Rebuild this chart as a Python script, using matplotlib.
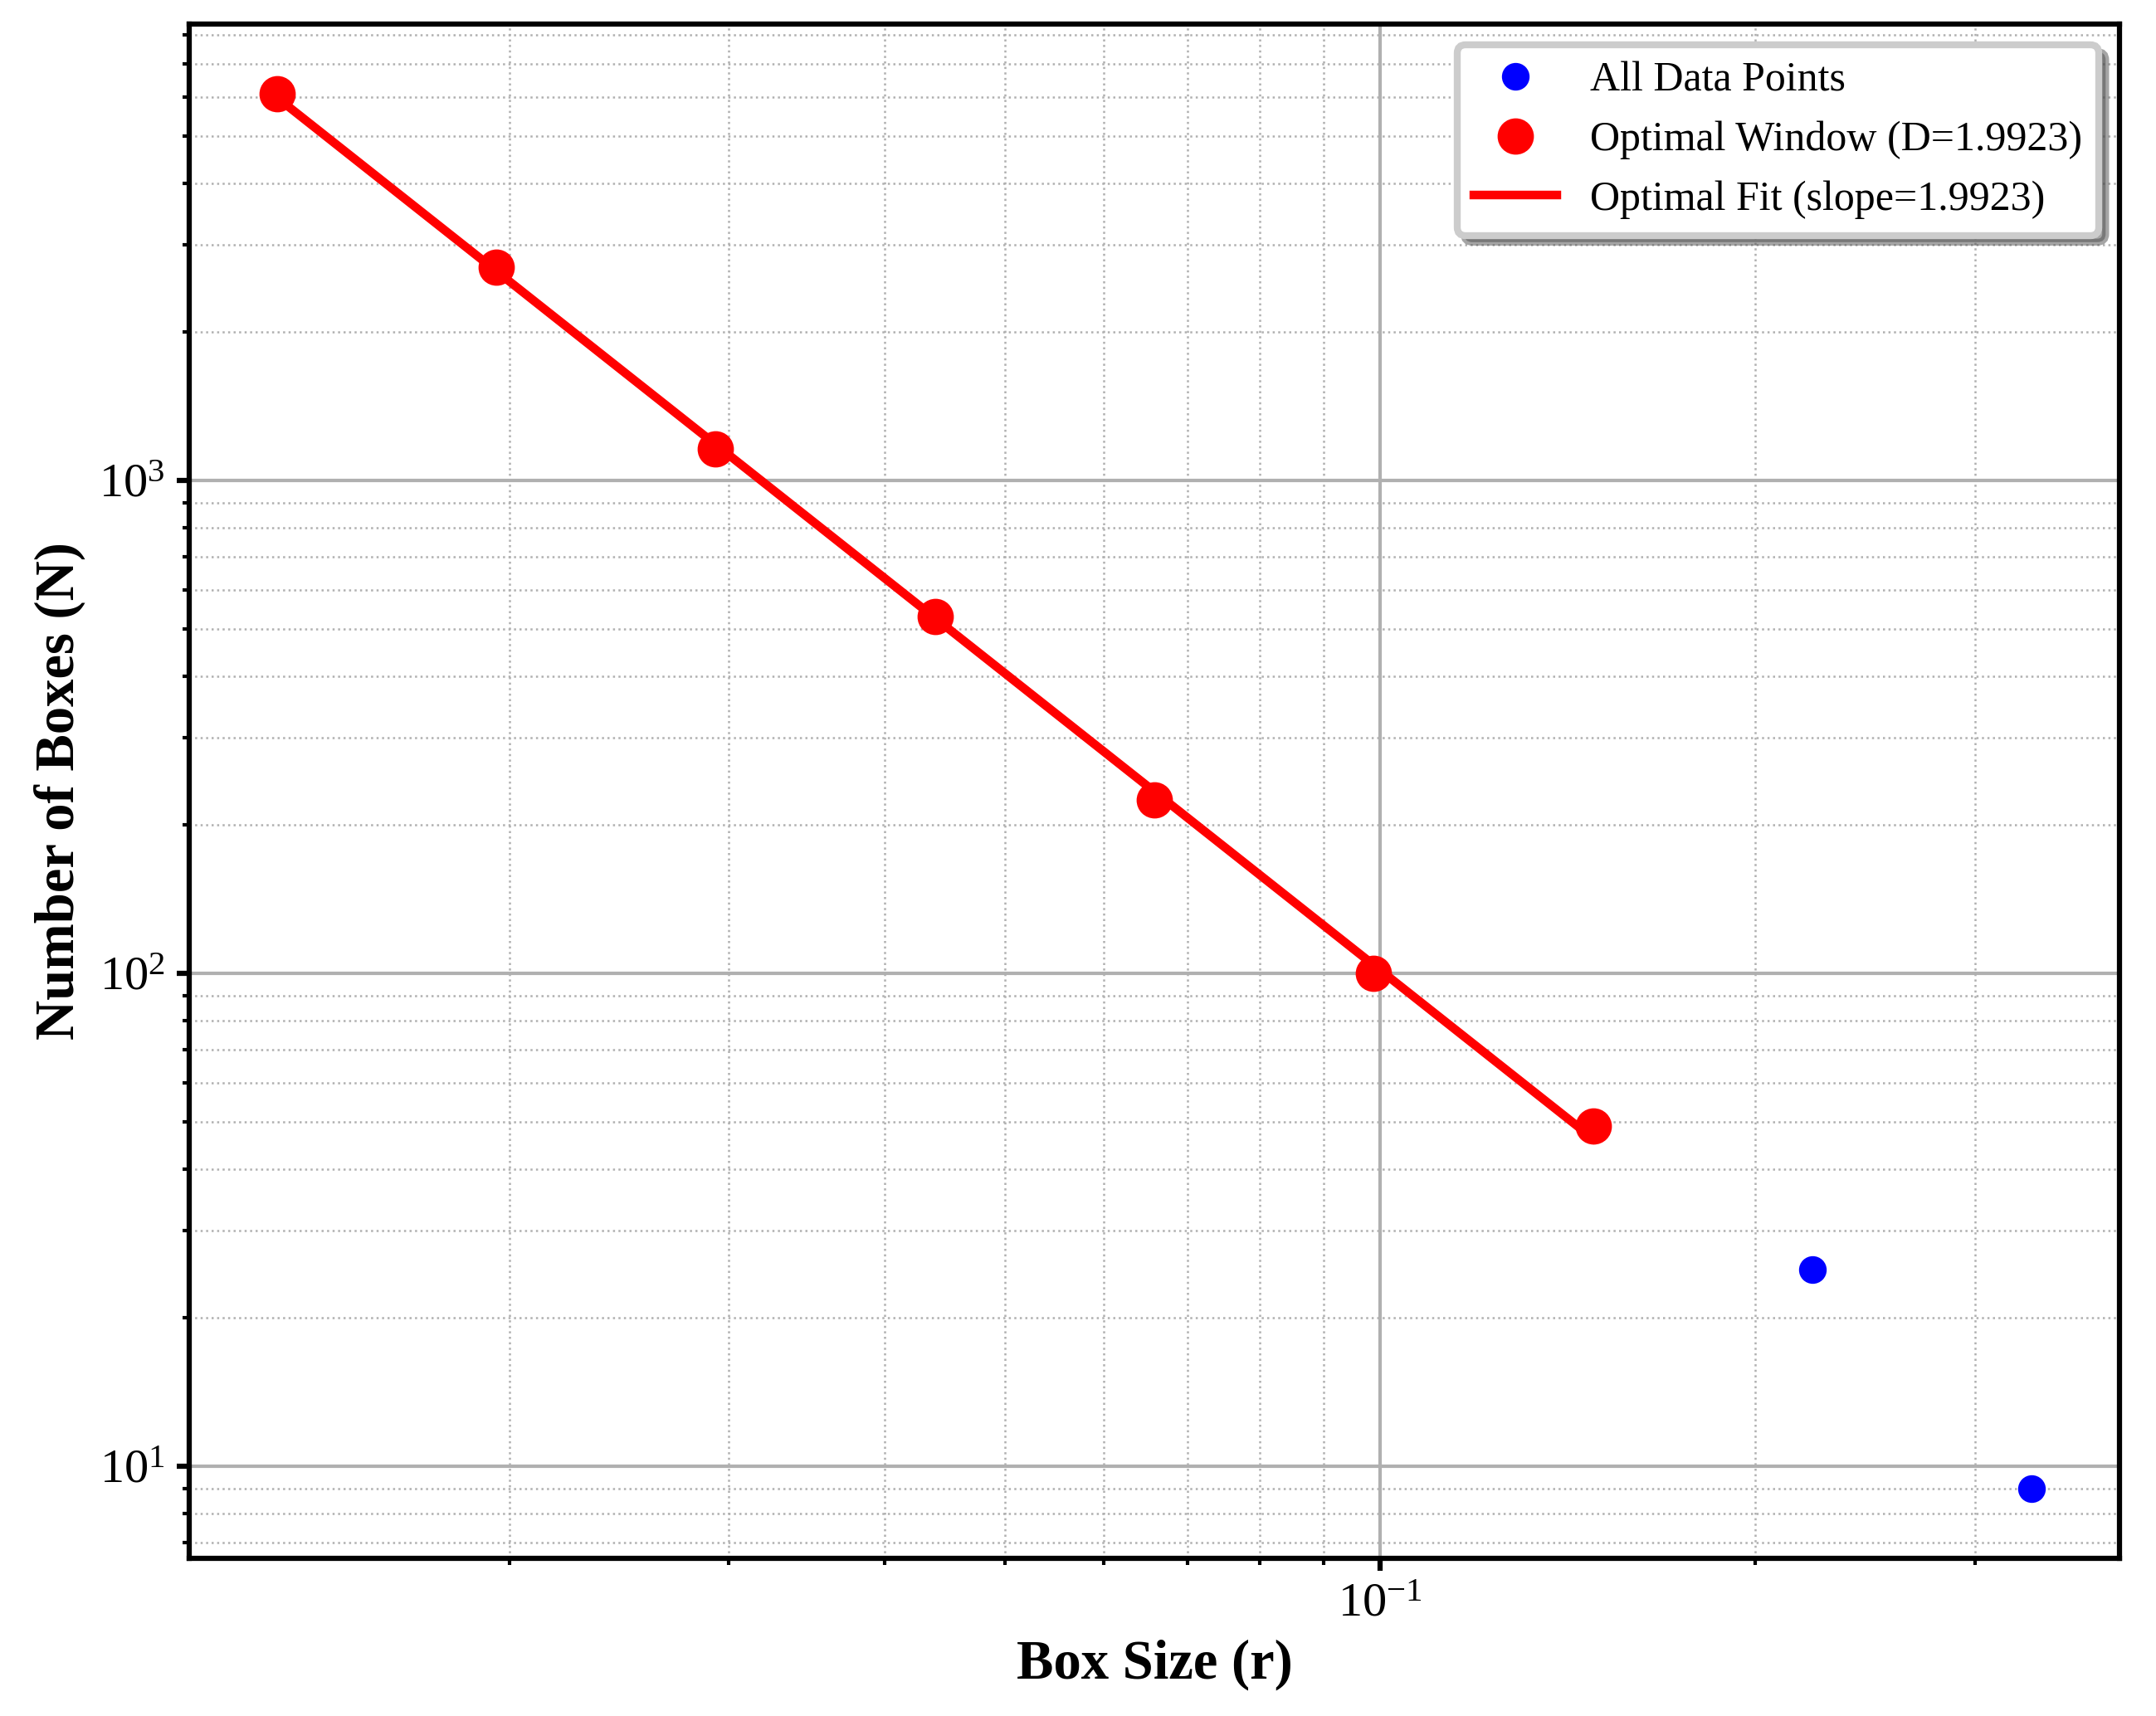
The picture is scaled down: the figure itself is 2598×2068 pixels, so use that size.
import numpy as np
import matplotlib
matplotlib.use("Agg")
import matplotlib.pyplot as plt

# box-counting results
box_sizes = [0.01301, 0.01951, 0.02926, 0.04390, 0.06584, 0.09877, 0.14815, 0.22222, 0.33333]
box_counts = [6084, 2704, 1156, 529, 225, 100, 49, 25, 9]
window_start, window_end = 0, 7   # optimal window (first 7 points)
dim_label = "1.9923"

plt.rcParams['font.family'] = ['Liberation Serif', 'DejaVu Serif']
plt.rcParams['mathtext.fontset'] = 'stix'
plt.rcParams['font.size'] = 14

r = np.array(box_sizes)
n = np.array(box_counts)
r_win = r[window_start:window_end]
n_win = n[window_start:window_end]

coef = np.polyfit(np.log10(r_win), np.log10(n_win), 1)
fit_n = 10 ** np.polyval(coef, np.log10(r_win))

W, H = 2598, 2068
fig = plt.figure(figsize=(W / 300, H / 300), dpi=300)
ax = fig.add_axes([228 / W, 1 - 1878 / H, 2326 / W, 1849 / H])

ax.loglog(r, n, 'o', color='blue', ms=7, label='All Data Points', zorder=3)
ax.loglog(r_win, n_win, 'o', color='red', ms=9.5, label=f'Optimal Window (D={dim_label})', zorder=4)
ax.loglog(r_win, fit_n, '-', color='red', lw=2.5, label=f'Optimal Fit (slope={dim_label})', zorder=3)

ax.set_xlabel('Box Size (r)', fontsize=16, fontweight='bold')
ax.set_ylabel('Number of Boxes (N)', fontsize=16, fontweight='bold')

ax.grid(True, which='major', color='#b0b0b0', lw=1.0, ls='-')
ax.grid(True, which='minor', color='#b0b0b0', lw=0.6, ls=':')
ax.set_axisbelow(True)

for s in ax.spines.values():
    s.set_linewidth(1.5)
ax.tick_params(which='major', width=1.5, length=3.5, labelsize=14)
ax.tick_params(which='minor', width=1, length=2)

leg = ax.legend(loc='upper right', fontsize=12, shadow=True, fancybox=True,
                framealpha=1, edgecolor='#cccccc')
leg.get_frame().set_linewidth(2)

plt.savefig('out.png', dpi=300)
